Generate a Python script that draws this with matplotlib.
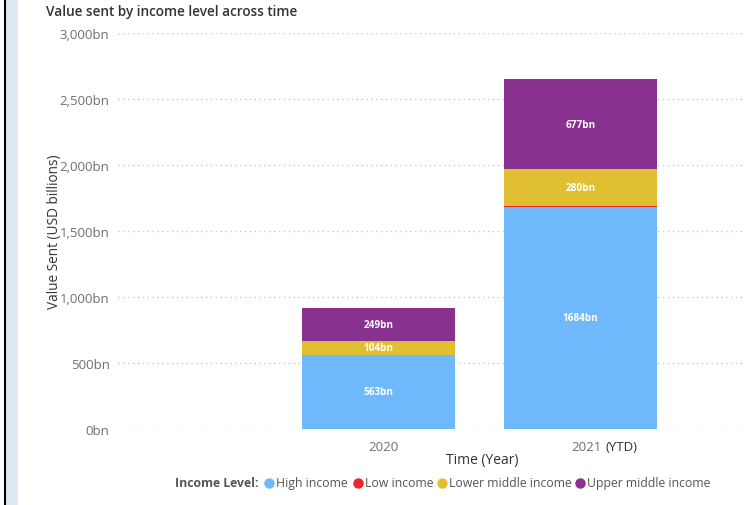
import matplotlib.pyplot as plt
from matplotlib.patches import Rectangle
from matplotlib.lines import Line2D

plt.rcParams['font.family'] = ['Open Sans', 'DejaVu Sans']

years = ["2020", "2021"]
series = ["High income", "Low income", "Lower middle income", "Upper middle income"]
high_income = [563, 1684]
low_income = [1, 8]
lower_middle = [104, 280]
upper_middle = [249, 677]
colors = ["#6fb8fc", "#e8262b", "#e0c030", "#88318f"]
label_show = [True, False, True, True]

W, H = 744, 506
fig = plt.figure(figsize=(W / 100, H / 100), dpi=100)

# left decoration strip
fig.patches.append(Rectangle((5 / W, 0), 13 / W, 1, transform=fig.transFigure,
                             facecolor="#dfe9f5", edgecolor="none", zorder=0))
fig.add_artist(Line2D([4.5 / W, 4.5 / W], [0, 1], transform=fig.transFigure,
                      color="black", lw=1.5))

ax = fig.add_axes([118 / W, 76 / H, (W - 118) / W, (472 - 76) / H])
ax.set_ylim(0, 3000)
x = [0, 1]
ax.set_xlim((118 - 378.5) / 202, (744 - 378.5) / 202)

data = [high_income, low_income, lower_middle, upper_middle]
bottoms = [0, 0]
for vals, c, show in zip(data, colors, label_show):
    ax.bar(x, vals, bottom=bottoms, width=0.757, color=c, zorder=3)
    if show:
        for xi, v, b in zip(x, vals, bottoms):
            ax.text(xi, b + v / 2, f"{v}bn", ha="center", va="center",
                    color="white", fontsize=7.2, fontweight="bold", zorder=4)
    bottoms = [b + v for b, v in zip(bottoms, vals)]

ax.set_yticks(range(0, 3001, 500))
ax.set_yticklabels([f"{v:,}bn" for v in range(0, 3001, 500)], color="#707070", fontsize=9.5)
ax.yaxis.grid(True, linestyle=(0, (1, 2.5)), color="#c8c8c8", lw=1)
ax.set_axisbelow(True)
ax.tick_params(axis="both", length=0, pad=6)
ax.set_xticks(x)
ax.set_xticklabels([])
for s in ax.spines.values():
    s.set_visible(False)

xt = ax.get_xaxis_transform()
ax.text(0 + 5 / 202, -0.027, years[0], transform=xt, ha="center", va="top",
        fontsize=9.5, color="#707070")
ax.text(1 + 6 / 202, -0.027, years[1], transform=xt, ha="center", va="top",
        fontsize=9.5, color="#707070")
ax.text(1 + 25 / 202, -0.027, "(YTD)", transform=xt, ha="left", va="top",
        fontsize=9.5, color="#333333")

fig.text(482 / W, 1 - 461 / H, "Time (Year)", ha="center", va="center",
         fontsize=10, color="#333333")
fig.text(55 / W, 1 - 232 / H, "Value Sent (USD billions)", ha="center", va="center",
         rotation=90, fontsize=9.8, color="#333333")
fig.text(46 / W, 1 - 12 / H, "Value sent by income level across time", ha="left", va="center",
         fontsize=9.8, fontweight="semibold", color="#333333")

# legend
ly = 1 - 484 / H
fig.text(175 / W, ly, "Income Level:", ha="left", va="center", fontsize=8.8,
         fontweight="bold", color="#555555")
leg_x = [269, 358, 442, 580]
for lx, name, c in zip(leg_x, series, colors):
    fig.add_artist(Line2D([lx / W], [ly], marker="o", markersize=6.5, color=c,
                          transform=fig.transFigure, linestyle="none"))
    fig.text((lx + 7) / W, ly, name, ha="left", va="center", fontsize=8.8, color="#555555")

fig.savefig("out.png", dpi=100, facecolor="white")
